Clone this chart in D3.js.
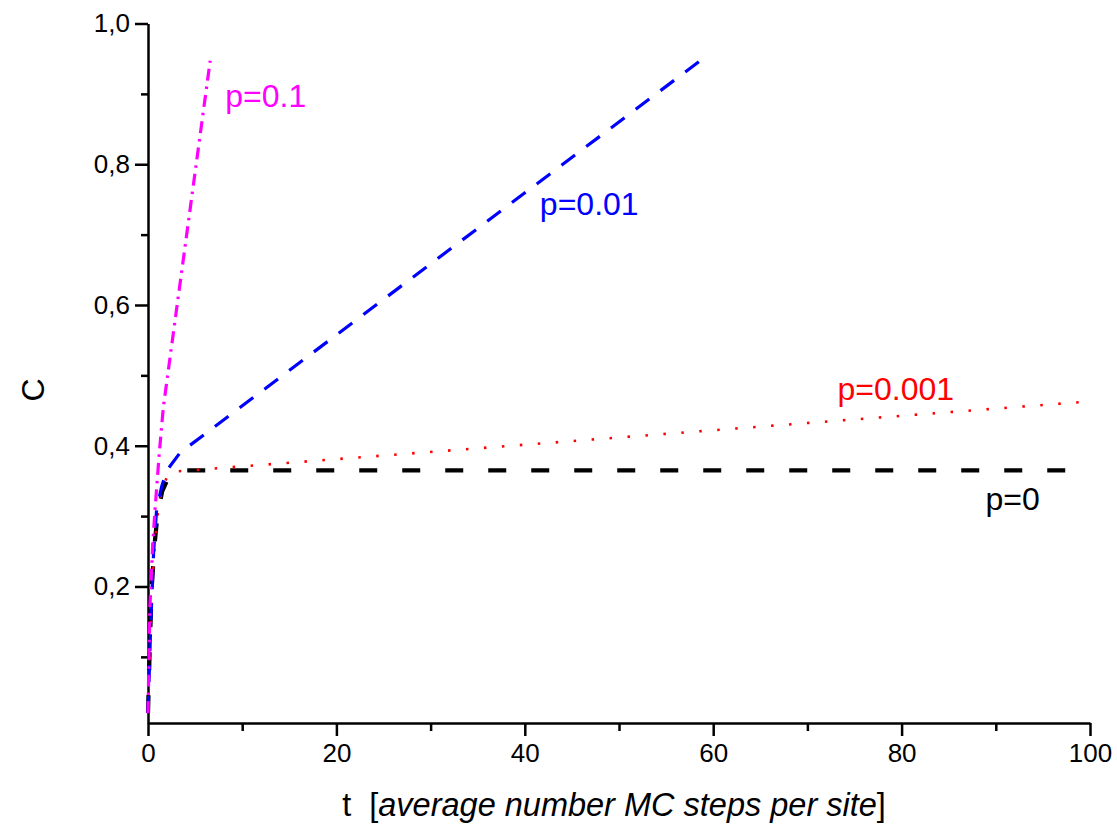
<!DOCTYPE html>
<html>
<head>
<meta charset="utf-8">
<script src="https://cdn.jsdelivr.net/npm/d3@7"></script>
<style>
  body { margin: 0; background: #fff; }
  svg { font-family: Arial, "Liberation Sans", sans-serif; }
</style>
</head>
<body>
<svg id="chart" width="1117" height="829"></svg>
<script>
// series: t (MC steps per site) and C
const tP0 = [0, 0.2, 0.4, 0.7, 1, 1.5, 2, 2.5, 3, 4, 99];
const cP0 = [0.02, 0.12, 0.2, 0.26, 0.3, 0.335, 0.35, 0.358, 0.362, 0.365, 0.365];

const tP001 = [0, 0.3, 0.6, 1, 1.45, 2, 2.5, 99];
const cP001 = [0.02, 0.15, 0.24, 0.3, 0.337, 0.355, 0.363, 0.462];

const tP01 = [0, 0.3, 0.6, 0.92, 1.45, 2, 3.4, 59];
const cP01 = [0.02, 0.15, 0.25, 0.31, 0.342, 0.365, 0.39, 0.951];

const tP1 = [0, 0.2, 0.5, 0.75, 1.2, 1.63, 6.6];
const cP1 = [0.02, 0.17, 0.26, 0.31, 0.39, 0.455, 0.947];

const seriesNames = ["p=0", "p=0.001", "p=0.01", "p=0.1"];
const labelT = [88.9, 73.2, 41.6, 8.2];
const labelC = [0.309, 0.465, 0.728, 0.881];

const xMajor = [0, 20, 40, 60, 80, 100];
const xMinor = [10, 30, 50, 70, 90];
const yMajor = [0.2, 0.4, 0.6, 0.8, 1.0];
const yMinor = [0.1, 0.3, 0.5, 0.7, 0.9];

const svg = d3.select('#chart');

const x = d3.scaleLinear().domain([0, 100]).range([148, 1090]);
const y = d3.scaleLinear().domain([0.006, 1.0]).range([723, 23.5]);

const fmtY = d => d3.format('.1f')(d).replace('.', ',');

// axes
svg.append('g')
    .attr('transform', `translate(0,${y.range()[0]})`)
    .call(d3.axisBottom(x).tickValues(xMajor).tickSize(13).tickPadding(8).tickSizeOuter(0));
svg.append('g')
    .attr('transform', `translate(0,${y.range()[0]})`)
    .call(d3.axisBottom(x).tickValues(xMinor).tickSize(8).tickFormat('').tickSizeOuter(0))
    .select('.domain').remove();

svg.append('g')
    .attr('transform', `translate(${x.range()[0]},0)`)
    .call(d3.axisLeft(y).tickValues(yMajor).tickSize(13).tickPadding(5).tickFormat(fmtY).tickSizeOuter(0));
svg.append('g')
    .attr('transform', `translate(${x.range()[0]},0)`)
    .call(d3.axisLeft(y).tickValues(yMinor).tickSize(7).tickFormat('').tickSizeOuter(0))
    .select('.domain').remove();

svg.selectAll('.domain').attr('stroke', '#000').attr('stroke-width', 2.5);
svg.selectAll('.tick line').attr('stroke', '#000').attr('stroke-width', 2.5);
svg.selectAll('.tick text')
    .attr('fill', '#000')
    .style('font-size', '26px')
    .style('font-family', 'Arial, "Liberation Sans", sans-serif');

// curves
const line = d3.line().x(d => x(d[0])).y(d => y(d[1]));
const curves = [
    { t: tP0, c: cP0, color: '#000000', width: 4.2, dash: '18,25' },
    { t: tP001, c: cP001, color: '#ff0000', width: 2.6, dash: '2.5,15.5' },
    { t: tP01, c: cP01, color: '#0000ff', width: 3.2, dash: '17,14' },
    { t: tP1, c: cP1, color: '#ff00ff', width: 3.2, dash: '12,6,2.5,6' }
];

svg.append('g')
    .attr('fill', 'none')
    .selectAll('path')
    .data(curves)
    .join('path')
    .attr('d', d => line(d.t.map((v, i) => [v, d.c[i]])))
    .attr('stroke', d => d.color)
    .attr('stroke-width', d => d.width)
    .attr('stroke-dasharray', d => d.dash);

// curve labels
svg.append('g')
    .selectAll('text')
    .data(seriesNames)
    .join('text')
    .attr('x', (d, i) => x(labelT[i]))
    .attr('y', (d, i) => y(labelC[i]))
    .attr('fill', (d, i) => curves[i].color)
    .style('font-size', '32px')
    .text(d => d);

// axis titles
svg.append('text')
    .attr('transform', 'translate(44,390) rotate(-90)')
    .attr('text-anchor', 'middle')
    .style('font-size', '32px')
    .text('C');

const xt = svg.append('text')
    .attr('x', 614)
    .attr('y', 816)
    .attr('text-anchor', 'middle')
    .style('font-size', '32.5px');
xt.append('tspan').text('t\u00a0\u00a0[');
xt.append('tspan').style('font-style', 'italic').text('average number MC steps per site');
xt.append('tspan').text(']');
</script>
</body>
</html>
